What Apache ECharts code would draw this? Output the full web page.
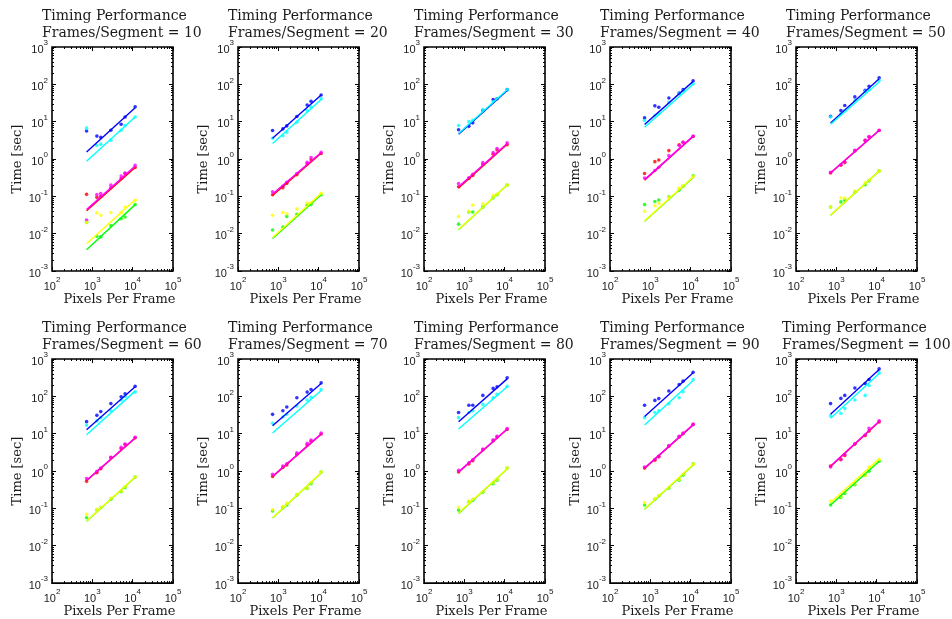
<!DOCTYPE html>
<html>
<head>
<meta charset="utf-8">
<script src="https://cdn.jsdelivr.net/npm/echarts@6/dist/echarts.min.js"></script>
<style>
  html, body { margin: 0; padding: 0; background: #fff; }
  #chart { width: 952px; height: 619px; }
</style>
</head>
<body>
<div id="chart"></div>
<script>
// Frames per segment, one panel each
const framesPerSegment = [10, 20, 30, 40, 50, 60, 70, 80, 90, 100];
// Frame sizes (pixels per frame) that were timed
const pixelsPerFrame = [720, 1296, 1620, 2880, 5184, 6480, 11520];
// Range covered by the fitted power-law lines
const fitRange = [720, 11520];
// Decade exponents shown on the axes
const xTickExponents = [2, 3, 4, 5];
const yTickExponents = [-3, -2, -1, 0, 1, 2, 3];

// Measured times [sec]; one row per panel
const blueTimes = [
  [5.6, 4.1, 3.8, 5.9, 8.5, 13.3, 25],
  [5.8, 6.4, 7.7, 13.7, 28, 35, 52],
  [6.1, 7.5, 9.3, 20, 39, 41, 72],
  [12.6, 26.5, 24.4, 43, 58, 72, 125],
  [13.9, 20, 27, 46, 69, 89, 150],
  [21, 31, 39, 64, 98, 117, 187],
  [33, 41, 52, 92, 130, 153, 230],
  [37, 58, 58, 106, 163, 181, 313],
  [58, 78, 87, 139, 208, 255, 443],
  [64, 88, 106, 167, 221, 283, 544]
];
const cyanTimes = [
  [6.7, 2.3, 2.5, 3.2, 5.9, 7.9, 13.3],
  [3.6, 4.2, 5.2, 9.7, 20, 24.5, 41],
  [7.9, 10, 10.9, 21, 34, 41, 72],
  [10.7, 14.6, 16, 33, 56, 66, 104],
  [13.5, 16.3, 20, 37, 65, 72, 128],
  [17, 22, 27, 41, 80, 100, 130],
  [19, 28, 33, 55, 80, 95, 153],
  [27, 37, 41, 61, 92, 113, 187],
  [27, 37, 41, 64, 92, 133, 283],
  [30, 35, 47, 80, 106, 196, 425]
];
const redTimes = [
  [0.113, 0.094, 0.1, 0.17, 0.30, 0.41, 0.59],
  [0.11, 0.17, 0.22, 0.38, 0.74, 0.95, 1.4],
  [0.18, 0.30, 0.36, 0.72, 1.35, 1.75, 2.4],
  [0.41, 0.85, 0.94, 1.68, 2.4, 2.8, 4.0],
  [0.42, 0.68, 0.8, 1.65, 3.1, 3.9, 5.8],
  [0.53, 0.9, 1.15, 2.3, 4.0, 5.1, 7.8],
  [0.72, 1.25, 1.45, 2.8, 5.0, 6.3, 9.8],
  [0.95, 1.55, 1.9, 3.7, 6.5, 8.1, 13],
  [1.2, 1.95, 2.4, 4.6, 8.2, 10, 17.5],
  [1.36, 2.0, 2.6, 5.3, 8.9, 11.9, 20.7]
];
const magentaTimes = [
  [0.023, 0.111, 0.118, 0.20, 0.35, 0.42, 0.68],
  [0.133, 0.185, 0.237, 0.41, 0.81, 1.1, 1.51],
  [0.22, 0.316, 0.39, 0.80, 1.48, 1.9, 2.7],
  [0.31, 0.49, 0.6, 1.23, 2.3, 2.8, 4.1],
  [0.44, 0.70, 0.83, 1.7, 3.2, 4.0, 5.9],
  [0.63, 0.98, 1.2, 2.35, 4.3, 5.3, 8.0],
  [0.82, 1.36, 1.57, 3.07, 5.5, 6.8, 10.4],
  [1.04, 1.66, 2.0, 3.9, 6.9, 8.5, 13.7],
  [1.28, 2.03, 2.5, 4.8, 8.5, 10.4, 18],
  [1.28, 2.1, 2.76, 5.3, 9.2, 14, 22]
];
const yellowTimes = [
  [0.020, 0.036, 0.031, 0.037, 0.036, 0.052, 0.078],
  [0.031, 0.037, 0.034, 0.046, 0.066, 0.066, 0.12],
  [0.029, 0.04, 0.058, 0.063, 0.106, 0.114, 0.2],
  [0.04, 0.056, 0.065, 0.094, 0.166, 0.185, 0.34],
  [0.052, 0.09, 0.09, 0.136, 0.23, 0.27, 0.48],
  [0.069, 0.095, 0.106, 0.186, 0.29, 0.38, 0.69],
  [0.093, 0.114, 0.14, 0.235, 0.35, 0.49, 0.94],
  [0.107, 0.157, 0.178, 0.28, 0.49, 0.6, 1.2],
  [0.144, 0.184, 0.22, 0.36, 0.6, 0.82, 1.53],
  [0.157, 0.213, 0.28, 0.46, 0.77, 1.28, 2.04]
];
const greenTimes = [
  [0.02, 0.0085, 0.0082, 0.0166, 0.025, 0.028, 0.06],
  [0.0125, 0.0151, 0.029, 0.033, 0.058, 0.06, 0.11],
  [0.018, 0.038, 0.038, 0.052, 0.092, 0.11, 0.2],
  [0.06, 0.073, 0.08, 0.097, 0.147, 0.185, 0.355],
  [0.052, 0.071, 0.078, 0.13, 0.205, 0.26, 0.48],
  [0.056, 0.09, 0.106, 0.176, 0.28, 0.36, 0.69],
  [0.085, 0.106, 0.123, 0.23, 0.34, 0.46, 0.94],
  [0.09, 0.15, 0.165, 0.27, 0.46, 0.57, 1.2],
  [0.123, 0.176, 0.215, 0.35, 0.57, 0.77, 1.57],
  [0.123, 0.196, 0.25, 0.43, 0.77, 0.99, 1.84]
];

// Fitted line end values [at fitRange[0], at fitRange[1]]; one row per panel
const blueFit = [[1.54, 23.7], [3.6, 52], [4.6, 68], [8.4, 120], [9.2, 142], [12.8, 180], [16.4, 221], [21, 294], [29, 426], [33, 520]];
const cyanFit = [[0.87, 13.3], [2.6, 39], [4.8, 72], [7.1, 100], [8.5, 116], [9.4, 138], [10.4, 144], [13.3, 181], [17, 266], [26, 410]];
const redFit = [[0.041, 0.59], [0.105, 1.42], [0.167, 2.5], [0.27, 4.0], [0.42, 5.8], [0.55, 7.6], [0.71, 9.7], [0.93, 13.1], [1.18, 17.2], [1.33, 21]];
const magentaFit = [[0.044, 0.65], [0.115, 1.5], [0.18, 2.6], [0.28, 4.1], [0.43, 5.9], [0.57, 7.8], [0.73, 9.9], [0.95, 13.4], [1.2, 17.5], [1.36, 21.5]];
const yellowFit = [[0.0054, 0.081], [0.0079, 0.12], [0.013, 0.2], [0.022, 0.33], [0.031, 0.48], [0.046, 0.69], [0.056, 0.9], [0.075, 1.16], [0.097, 1.5], [0.144, 2.12]];
const greenFit = [[0.0037, 0.06], [0.0074, 0.11], [0.0128, 0.2], [0.0215, 0.32], [0.031, 0.48], [0.045, 0.68], [0.055, 0.89], [0.073, 1.14], [0.095, 1.46], [0.123, 1.82]];

const groups = [
  { times: blueTimes, fit: blueFit, color: '#0000ff' },
  { times: cyanTimes, fit: cyanFit, color: '#00ffff' },
  { times: redTimes, fit: redFit, color: '#ff0000' },
  { times: magentaTimes, fit: magentaFit, color: '#ff00ff' },
  { times: greenTimes, fit: greenFit, color: '#00ff00' },
  { times: yellowTimes, fit: yellowFit, color: '#ffff00' }
];

const SERIF = '"DejaVu Serif", "Liberation Serif", serif';
const SANS = '"Liberation Sans", Arial, sans-serif';
const INK = '#1a1a1a';

function decades(exps) { return exps.map(e => Number('1e' + e)); }
function minorTicks(exps) {
  const out = [];
  for (let i = 0; i < exps.length - 1; i++) {
    for (let k = 2; k <= 9; k++) out.push(Number(k + 'e' + exps[i]));
  }
  return out;
}
const xMajor = decades(xTickExponents);
const yMajor = decades(yTickExponents);
const xMinor = minorTicks(xTickExponents);
const yMinor = minorTicks(yTickExponents);

const powLabel = {
  formatter: v => '{b|10}{e|' + Math.round(Math.log10(v)) + '}',
  rich: {
    b: { fontFamily: SANS, fontSize: 11, color: INK, lineHeight: 16, verticalAlign: 'bottom' },
    e: { fontFamily: SANS, fontSize: 8, color: INK, lineHeight: 8, verticalAlign: 'top' }
  }
};

const COL_LEFT = [52, 238, 424, 610, 796];
const ROW_TOP = [47, 359];
const ROW_H = [224, 226];
const PLOT_W = 121;

const grids = [], xAxes = [], yAxes = [], titles = [], series = [];

framesPerSegment.forEach((fps, i) => {
  const r = Math.floor(i / 5), c = i % 5;
  const left = COL_LEFT[c], top = ROW_TOP[r];
  grids.push({
    left: left, top: top, width: PLOT_W, height: ROW_H[r],
    show: true, borderColor: '#000', borderWidth: 1.6, backgroundColor: '#fff',
    containLabel: false
  });

  const logX = { gridIndex: i, type: 'log', logBase: 10, min: 100, max: 100000, splitLine: { show: false }, axisLine: { show: false, onZero: false } };
  const logY = { gridIndex: i, type: 'log', logBase: 10, min: 0.001, max: 1000, splitLine: { show: false }, axisLine: { show: false, onZero: false } };
  const majorTick = vals => ({ show: true, inside: true, length: 4, customValues: vals, lineStyle: { color: '#000', width: 1 } });
  const minorTick = vals => ({ show: true, inside: true, length: 2, customValues: vals, lineStyle: { color: '#000', width: 1 } });

  // bottom axis with labels, top axis mirrors ticks, plus minor ticks
  xAxes.push(Object.assign({}, logX, {
    position: 'bottom',
    axisTick: majorTick(xMajor),
    axisLabel: Object.assign({ show: true, customValues: xMajor, margin: 5 }, powLabel),
    name: 'Pixels Per Frame', nameLocation: 'middle', nameGap: 19,
    nameTextStyle: { fontFamily: SERIF, fontSize: 13, color: INK, padding: [0, 0, 0, 14] }
  }));
  xAxes.push(Object.assign({}, logX, { position: 'top', axisTick: majorTick(xMajor), axisLabel: { show: false } }));
  xAxes.push(Object.assign({}, logX, { position: 'bottom', axisTick: minorTick(xMinor), axisLabel: { show: false } }));
  xAxes.push(Object.assign({}, logX, { position: 'top', axisTick: minorTick(xMinor), axisLabel: { show: false } }));

  yAxes.push(Object.assign({}, logY, {
    position: 'left',
    axisTick: majorTick(yMajor),
    axisLabel: Object.assign({ show: true, customValues: yMajor, margin: 4 }, powLabel),
    name: 'Time [sec]', nameLocation: 'middle', nameGap: 28,
    nameTextStyle: { fontFamily: SERIF, fontSize: 13, color: INK }
  }));
  yAxes.push(Object.assign({}, logY, { position: 'right', axisTick: majorTick(yMajor), axisLabel: { show: false } }));
  yAxes.push(Object.assign({}, logY, { position: 'left', axisTick: minorTick(yMinor), axisLabel: { show: false } }));
  yAxes.push(Object.assign({}, logY, { position: 'right', axisTick: minorTick(yMinor), axisLabel: { show: false } }));

  titles.push({
    text: 'Timing Performance\nFrames/Segment = ' + fps,
    left: left - (fps >= 100 ? 14 : 10),
    top: r === 0 ? 7.5 : 319.5,
    padding: 0,
    textStyle: { fontFamily: SERIF, fontSize: 14, fontWeight: 'normal', color: INK, lineHeight: 17.5 }
  });

  groups.forEach(g => {
    series.push({
      type: 'line', xAxisIndex: 4 * i, yAxisIndex: 4 * i,
      data: [[fitRange[0], g.fit[i][0]], [fitRange[1], g.fit[i][1]]],
      showSymbol: false, silent: true,
      lineStyle: { color: g.color, width: 1.4 }
    });
  });
  groups.forEach(g => {
    series.push({
      type: 'scatter', xAxisIndex: 4 * i, yAxisIndex: 4 * i,
      data: pixelsPerFrame.map((x, k) => [x, g.times[i][k]]),
      symbol: 'circle', symbolSize: 3.6, silent: true,
      itemStyle: { color: g.color }
    });
  });
});

const chart = echarts.init(document.getElementById('chart'), null, { renderer: 'canvas' });
chart.setOption({
  animation: false,
  backgroundColor: '#fff',
  title: titles,
  grid: grids,
  xAxis: xAxes,
  yAxis: yAxes,
  series: series
});
</script>
</body>
</html>
